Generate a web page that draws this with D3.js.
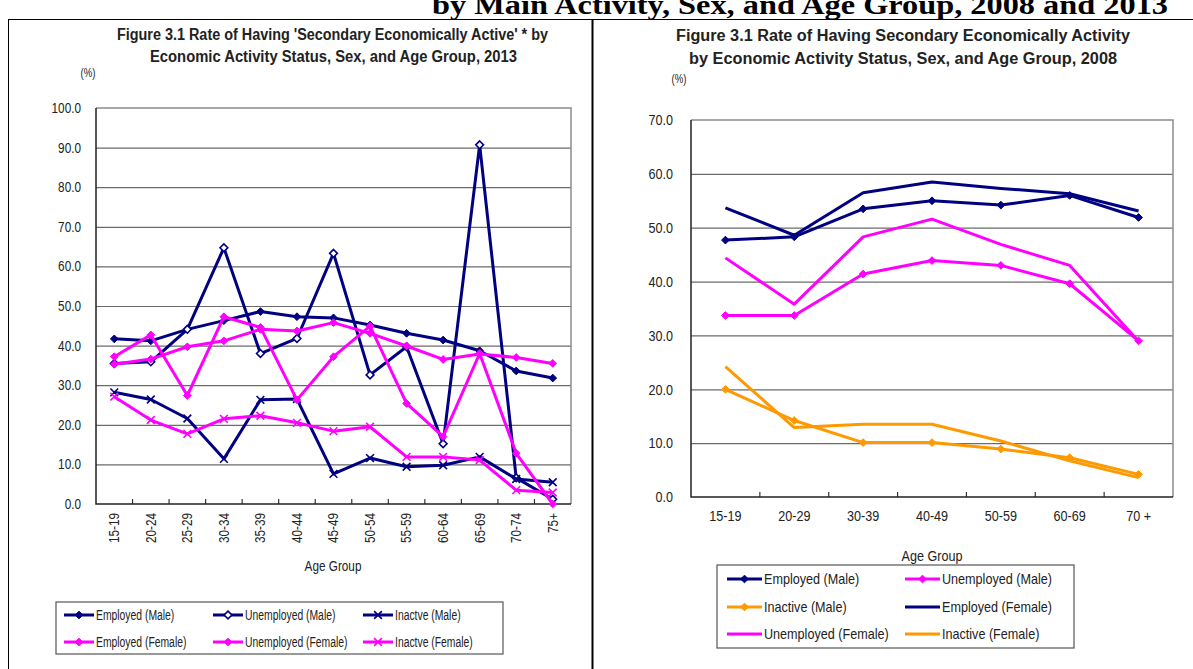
<!DOCTYPE html>
<html><head><meta charset="utf-8">
<script src="https://cdn.jsdelivr.net/npm/d3@7"></script>
<style>
body{margin:0;background:#fff}
svg{display:block}
text{font-family:"Liberation Sans",Arial,sans-serif;fill:#222}
</style>
</head><body>
<svg id="c" width="1193" height="669"></svg>
<script>
// ---------- DATA: 2013 (left chart) ----------
const ageGroups2013 = ["15-19","20-24","25-29","30-34","35-39","40-44","45-49","50-54","55-59","60-64","65-69","70-74","75+"];
const employedMale2013     = [41.7,41.2,44.1,46.3,48.6,47.3,47.0,45.2,43.1,41.4,38.7,33.6,31.8];
const unemployedMale2013   = [35.5,35.9,44.1,64.7,38.0,41.8,63.3,32.6,39.7,15.2,90.7,6.6,1.2];
const inactiveMale2013     = [28.2,26.4,21.6,11.4,26.3,26.5,7.6,11.6,9.4,9.8,11.9,6.3,5.5];
const employedFemale2013   = [35.3,36.6,39.7,41.2,44.1,43.7,45.8,43.1,39.9,36.5,37.9,37.0,35.5];
const unemployedFemale2013 = [37.2,42.7,27.4,47.3,44.6,26.3,37.2,44.9,25.4,17.0,38.0,12.8,0.0];
const inactiveFemale2013   = [27.1,21.2,17.7,21.5,22.3,20.5,18.4,19.5,11.9,11.9,11.1,3.5,2.9];
const yTicks2013 = [0,10,20,30,40,50,60,70,80,90,100];

// ---------- DATA: 2008 (right chart) ----------
const ageGroups2008 = ["15-19","20-29","30-39","40-49","50-59","60-69","70 +"];
const employedMale2008     = [47.7,48.3,53.5,55.0,54.2,56.0,51.9];
const unemployedMale2008   = [33.7,33.7,41.4,43.9,43.0,39.6,29.0];
const inactiveMale2008     = [20.0,14.2,10.1,10.1,8.9,7.3,4.2];
const employedFemale2008   = [53.7,48.6,56.5,58.5,57.3,56.3,53.1];
const unemployedFemale2008 = [44.4,35.8,48.3,51.6,46.9,43.0,28.9];
const inactiveFemale2008   = [24.2,12.9,13.5,13.5,10.4,6.7,3.6];
const yTicks2008 = [0,10,20,30,40,50,60,70];

const NAVY = "#000080", MAG = "#FF00FF", ORANGE = "#FF9900";
const CONDENSE = 0.84;

const svg = d3.select("#c");

function condense(sel, f){
  sel.each(function(){
    const w = this.getComputedTextLength();
    if(w>0) d3.select(this).attr("textLength", w*f).attr("lengthAdjust","spacingAndGlyphs");
  });
  return sel;
}

// ---------- page frame ----------
svg.append("text").attr("x",432).attr("y",14)
  .attr("textLength",736).attr("lengthAdjust","spacingAndGlyphs")
  .style("font-family","'Liberation Serif','Times New Roman',serif")
  .style("font-weight","bold").style("font-size","27px").style("fill","#000")
  .text("by Main Activity, Sex, and Age Group, 2008 and 2013");
svg.append("line").attr("x1",8).attr("x2",1193).attr("y1",19.5).attr("y2",19.5).attr("stroke","#000").attr("stroke-width",1);
svg.append("line").attr("x1",8.5).attr("x2",8.5).attr("y1",19).attr("y2",669).attr("stroke","#000").attr("stroke-width",1);
svg.append("line").attr("x1",592.5).attr("x2",592.5).attr("y1",19).attr("y2",669).attr("stroke","#000").attr("stroke-width",2);

// ---------- marker shapes ----------
const diamond = {draw(ctx,size){const r=Math.sqrt(size)/2;ctx.moveTo(0,-r);ctx.lineTo(r,0);ctx.lineTo(0,r);ctx.lineTo(-r,0);ctx.closePath();}};
const cross = {draw(ctx,size){const r=Math.sqrt(size)/2;ctx.moveTo(-r,-r);ctx.lineTo(r,r);ctx.moveTo(r,-r);ctx.lineTo(-r,r);}};

function marker(g, type, color, size){
  if(type==="diamond") return g.append("path").attr("d",d3.symbol(diamond,size||64)()).attr("fill",color).attr("stroke",color).attr("stroke-width",1);
  if(type==="open") return g.append("path").attr("d",d3.symbol(diamond,size||52)()).attr("fill","#fff").attr("stroke",color).attr("stroke-width",1.6);
  if(type==="x") return g.append("path").attr("d",d3.symbol(cross,size||50)()).attr("fill","none").attr("stroke",color).attr("stroke-width",1.6);
  return null;
}

function drawChart(c){
  const g = svg.append("g");
  const x = d3.scaleBand().domain(c.cats).range([c.left,c.right]).padding(0);
  const y = d3.scaleLinear().domain([0,c.yMax]).range([c.bottom,c.top]);

  // gridlines
  g.append("g").attr("transform",`translate(${c.left},0)`)
    .call(d3.axisLeft(y).tickValues(c.yTicks.filter(v=>v>0 && v<c.yMax)).tickSize(-(c.right-c.left)).tickFormat(""))
    .call(a=>a.select(".domain").remove())
    .call(a=>a.selectAll("line").attr("stroke","#6b6b6b").attr("stroke-width",1.2));
  g.append("path").attr("d",`M${c.left},${c.top}H${c.right}V${c.bottom}`).attr("fill","none").attr("stroke","#8c8c8c").attr("stroke-width",1.5);

  // y axis labels
  g.append("g").attr("transform",`translate(${c.left},0)`)
    .call(d3.axisLeft(y).tickValues(c.yTicks).tickSize(0).tickPadding(c.yPad).tickFormat(d3.format(".1f")))
    .call(a=>a.select(".domain").remove())
    .call(a=>condense(a.selectAll("text").style("font-family","'Liberation Sans',Arial,sans-serif").style("font-size",c.tickFont+"px").attr("fill","#333"),CONDENSE));

  // x axis: boundary ticks (inward) + labels
  const xa = g.append("g").attr("transform",`translate(0,${c.bottom})`);
  xa.selectAll("line.bt").data(c.cats.slice(1)).join("line")
    .attr("x1",d=>x(d)).attr("x2",d=>x(d)).attr("y1",0).attr("y2",-5)
    .attr("stroke","#333").attr("stroke-width",1.2);
  const lab = xa.append("g").call(d3.axisBottom(x).tickSize(0).tickPadding(0))
    .call(a=>a.select(".domain").remove());
  lab.selectAll("text").style("font-family","'Liberation Sans',Arial,sans-serif").style("font-size",c.tickFont+"px").attr("fill","#333");
  if(c.rotate){
    lab.selectAll("text").attr("text-anchor","end").attr("dy","0.35em")
      .attr("transform",`translate(0,${c.xPad}) rotate(-90)`).attr("x",0).attr("y",0);
  } else {
    lab.selectAll("text").attr("dy","0.71em").attr("y",c.xPad);
  }
  condense(lab.selectAll("text"),CONDENSE);
  g.append("path").attr("d",`M${c.left},${c.top}V${c.bottom}H${c.right}`).attr("fill","none").attr("stroke","#222").attr("stroke-width",1.5);

  // series
  const line = d3.line().x((d,i)=>x(c.cats[i])+x.bandwidth()/2).y(d=>y(d));
  c.series.forEach(s=>{
    g.append("path").datum(s.values).attr("d",line).attr("fill","none")
      .attr("stroke",s.color).attr("stroke-width",c.lw).attr("stroke-linejoin","round");
    if(s.marker){
      s.values.forEach((v,i)=>{
        marker(g,s.marker,s.color,c.mSize).attr("transform",`translate(${x(c.cats[i])+x.bandwidth()/2},${y(v)})`);
      });
    }
  });

  // axis title & unit
  condense(g.append("text").attr("x",c.xTitle[0]).attr("y",c.xTitle[1]).attr("text-anchor","middle")
    .style("font-size",c.titleFont+"px").attr("fill","#333").text("Age Group"),CONDENSE);
  condense(g.append("text").attr("x",c.unit[0]).attr("y",c.unit[1]).attr("text-anchor","middle")
    .style("font-size","12px").attr("fill","#333").text("(%)"),0.8);

  // titles
  c.titles.forEach(t=>{
    g.append("text").attr("x",t.x).attr("y",t.y).attr("textLength",t.w).attr("lengthAdjust","spacingAndGlyphs")
      .style("font-weight","bold").style("font-size","16px").attr("fill","#111").text(t.text);
  });

  // legend
  const L = c.legend;
  g.append("rect").attr("x",L.x).attr("y",L.y).attr("width",L.w).attr("height",L.h)
    .attr("fill","#fff").attr("stroke","#555").attr("stroke-width",1.2);
  L.items.forEach((it,k)=>{
    const col = k % L.cols, row = Math.floor(k / L.cols);
    const lx = L.colX[col], ly = L.rowY[row];
    g.append("line").attr("x1",lx).attr("x2",lx+L.len).attr("y1",ly).attr("y2",ly)
      .attr("stroke",it.color).attr("stroke-width",c.lw);
    if(it.marker) marker(g,it.marker,it.color,c.mSize).attr("transform",`translate(${lx+L.len/2},${ly})`);
    condense(g.append("text").attr("x",lx+L.len+2).attr("y",ly).attr("dy","0.35em")
      .style("font-size",L.font+"px").attr("fill","#333").text(it.name),L.condense);
  });
}

const series2013 = [
  {name:"Employed (Male)", values:employedMale2013, color:NAVY, marker:"diamond"},
  {name:"Unemployed (Male)", values:unemployedMale2013, color:NAVY, marker:"open"},
  {name:"Inactve (Male)", values:inactiveMale2013, color:NAVY, marker:"x"},
  {name:"Employed (Female)", values:employedFemale2013, color:MAG, marker:"diamond"},
  {name:"Unemployed (Female)", values:unemployedFemale2013, color:MAG, marker:"diamond"},
  {name:"Inactve (Female)", values:inactiveFemale2013, color:MAG, marker:"x"}
];
drawChart({
  cats:ageGroups2013, yMax:100, yTicks:yTicks2013,
  left:96, right:571, top:108, bottom:504,
  yPad:15, xPad:9, rotate:true, tickFont:14, titleFont:14, lw:3, mSize:60,
  series:series2013,
  xTitle:[333,571], unit:[88,77],
  titles:[
    {x:117,y:40,w:431,text:"Figure 3.1 Rate of Having 'Secondary Economically Active' * by"},
    {x:150,y:62,w:367,text:"Economic Activity Status, Sex, and Age Group, 2013"}
  ],
  legend:{x:56,y:602,w:447,h:52,cols:3,colX:[64,213,363],rowY:[615,642],len:30,font:14,condense:0.74,items:series2013}
});

const series2008 = [
  {name:"Employed (Male)", values:employedMale2008, color:NAVY, marker:"diamond"},
  {name:"Unemployed (Male)", values:unemployedMale2008, color:MAG, marker:"diamond"},
  {name:"Inactive (Male)", values:inactiveMale2008, color:ORANGE, marker:"diamond"},
  {name:"Employed (Female)", values:employedFemale2008, color:NAVY, marker:null},
  {name:"Unemployed (Female)", values:unemployedFemale2008, color:MAG, marker:null},
  {name:"Inactive (Female)", values:inactiveFemale2008, color:ORANGE, marker:null}
];
drawChart({
  cats:ageGroups2008, yMax:70, yTicks:yTicks2008,
  left:691, right:1173, top:120, bottom:497,
  yPad:18, xPad:13, rotate:false, tickFont:15, titleFont:15, lw:3, mSize:60,
  series:series2008,
  xTitle:[932,561], unit:[679,83],
  titles:[
    {x:676,y:41,w:454,text:"Figure 3.1 Rate of Having Secondary Economically Activity"},
    {x:689,y:64,w:428,text:"by Economic Activity Status, Sex, and Age Group, 2008"}
  ],
  legend:{x:717,y:565,w:357,h:83,cols:2,colX:[727,905],rowY:[579,607,634],len:35,font:15,condense:0.84,items:series2008}
});
</script>
</body></html>
